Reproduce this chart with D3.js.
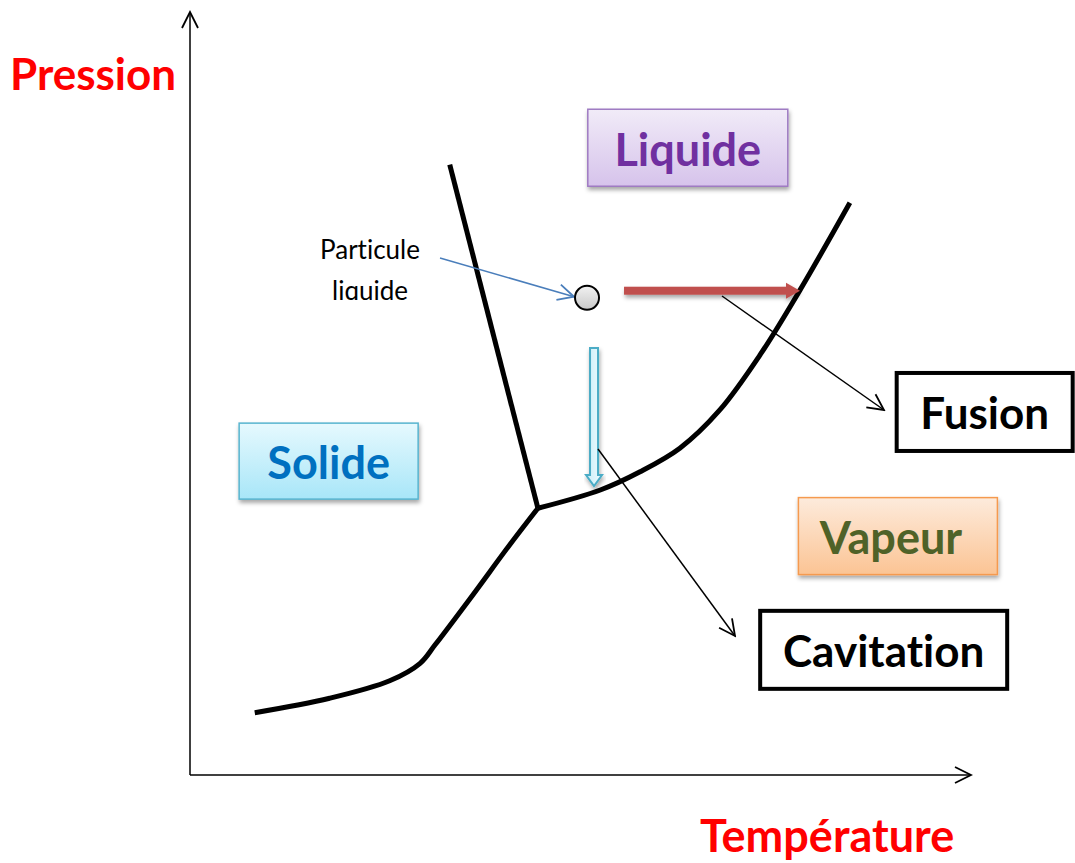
<!DOCTYPE html>
<meta charset="utf-8">
<html>
<head>
<title>Diagramme de phase</title>
<script src="https://d3js.org/d3.v7.min.js"></script>
<style>
body { margin: 0; background: #fff; }
svg text { font-family: Lato, "Open Sans", sans-serif; font-variant-ligatures: none; }
</style>
</head>
<body>
<div id="chart"></div>
<script>
// phase boundaries, in (temperature, pressure) units 0..100
var melting = [[33.3, 80.3], [44.6, 35.1]];
var vaporization = [[44.6, 35.1], [52.6, 37.5], [57.7, 39.9], [62.8, 43.0], [67.9, 48.0], [73.1, 55.3], [78.2, 63.8], [84.6, 75.3]];
var sublimation = [[8.3, 8.2], [17.9, 10.1], [25.6, 12.4], [29.5, 14.7], [31.4, 17.1], [35.9, 23.2], [41.0, 30.3], [44.6, 35.1]];

// phase labels (box corner T,P and size)
var phases = [
  { name: "Liquide", t: 51.0, p: 87.6, w: 200, h: 77, fill: ["#f1ebf8", "#d6c3eb"], stroke: "#9f7bc3", color: "#7030a0" },
  { name: "Solide", t: 6.3, p: 46.3, w: 179, h: 76, fill: ["#e6f9fe", "#a8e6f8"], stroke: "#58b4cf", color: "#0070c0" },
  { name: "Vapeur", t: 78.0, p: 36.5, w: 199, h: 77, fill: ["#fdebdc", "#fbc494"], stroke: "#f59a4f", color: "#4f6228" }
];

// phenomena
var phenomena = [
  { name: "Fusion", t: 90.6, p: 52.9, w: 176, h: 78 },
  { name: "Cavitation", t: 73.1, p: 21.6, w: 247, h: 78 }
];

var particle = [50.9, 62.8];

var width = 1075, height = 863;
var x = d3.scaleLinear().domain([0, 100]).range([190, 970]);
var y = d3.scaleLinear().domain([0, 100]).range([775, 15]);

var svg = d3.select("#chart").append("svg")
  .attr("width", width)
  .attr("height", height);

var defs = svg.append("defs");

var shadow = defs.append("filter").attr("id", "shadow")
  .attr("x", "-10%").attr("y", "-10%").attr("width", "130%").attr("height", "140%");
shadow.append("feDropShadow")
  .attr("dx", 1).attr("dy", 3).attr("stdDeviation", 2)
  .attr("flood-color", "#000").attr("flood-opacity", 0.35);

function marker(id, color, sw) {
  defs.append("marker")
    .attr("id", id)
    .attr("viewBox", "0 0 10 10")
    .attr("refX", 9).attr("refY", 5)
    .attr("markerUnits", "userSpaceOnUse")
    .attr("markerWidth", 20).attr("markerHeight", 20)
    .attr("orient", "auto")
    .append("path")
    .attr("d", "M1,1 L9,5 L1,9")
    .attr("fill", "none")
    .attr("stroke", color)
    .attr("stroke-width", sw);
}
marker("arrowBlack", "#000", 0.9);
marker("arrowBlue", "#4a7ebb", 0.9);

phases.forEach(function (d, i) {
  var g = defs.append("linearGradient").attr("id", "grad" + i)
    .attr("x1", 0).attr("y1", 0).attr("x2", 0).attr("y2", 1);
  g.append("stop").attr("offset", "0%").attr("stop-color", d.fill[0]);
  g.append("stop").attr("offset", "100%").attr("stop-color", d.fill[1]);
});

var cg = defs.append("linearGradient").attr("id", "gradCircle")
  .attr("x1", 0).attr("y1", 0).attr("x2", 0).attr("y2", 1);
cg.append("stop").attr("offset", "0%").attr("stop-color", "#f2f2f2");
cg.append("stop").attr("offset", "100%").attr("stop-color", "#c8c8c8");

var cy = defs.append("linearGradient").attr("id", "gradCyan")
  .attr("x1", 0).attr("y1", 0).attr("x2", 1).attr("y2", 0);
cy.append("stop").attr("offset", "0%").attr("stop-color", "#c9eef9");
cy.append("stop").attr("offset", "100%").attr("stop-color", "#eefafd");

// axes
svg.append("line")
  .attr("x1", x(0)).attr("y1", y(0))
  .attr("x2", x(0)).attr("y2", y(100) - 3)
  .attr("stroke", "#000").attr("stroke-width", 1.5)
  .attr("marker-end", "url(#arrowBlack)");
svg.append("line")
  .attr("x1", x(0)).attr("y1", y(0))
  .attr("x2", x(100) + 1).attr("y2", y(0))
  .attr("stroke", "#000").attr("stroke-width", 1.5)
  .attr("marker-end", "url(#arrowBlack)");

svg.append("text")
  .attr("x", 10).attr("y", 90)
  .attr("fill", "#ff0000").attr("font-weight", "bold").attr("font-size", 44)
  .text("Pression");
svg.append("text")
  .attr("x", 700).attr("y", 852)
  .attr("fill", "#ff0000").attr("font-weight", "bold").attr("font-size", 45)
  .text("Température");

// phase boundaries
var line = d3.line()
  .x(function (d) { return x(d[0]); })
  .y(function (d) { return y(d[1]); });

svg.append("path").datum(melting)
  .attr("d", line)
  .attr("fill", "none").attr("stroke", "#000").attr("stroke-width", 5);
svg.append("path").datum(vaporization)
  .attr("d", line.curve(d3.curveCatmullRom))
  .attr("fill", "none").attr("stroke", "#000").attr("stroke-width", 5);
svg.append("path").datum(sublimation)
  .attr("d", line.curve(d3.curveCatmullRom))
  .attr("fill", "none").attr("stroke", "#000").attr("stroke-width", 5)
  .attr("stroke-linejoin", "round");

// phase boxes
var pg = svg.selectAll(".phase")
  .data(phases)
  .enter().append("g")
  .attr("class", "phase")
  .attr("transform", function (d) { return "translate(" + x(d.t) + "," + y(d.p) + ")"; });

pg.append("rect")
  .attr("width", function (d) { return d.w; })
  .attr("height", function (d) { return d.h; })
  .attr("fill", function (d, i) { return "url(#grad" + i + ")"; })
  .attr("stroke", function (d) { return d.stroke; })
  .attr("stroke-width", 1.5)
  .attr("filter", "url(#shadow)");

pg.append("text")
  .attr("x", function (d) { return d.name === "Vapeur" ? d.w / 2 - 7 : d.w / 2; })
  .attr("y", function (d) { return d.h / 2 + 18; })
  .attr("text-anchor", "middle")
  .attr("font-weight", "bold").attr("font-size", 45)
  .attr("fill", function (d) { return d.color; })
  .text(function (d) { return d.name; });

// particle label
svg.append("text")
  .attr("x", 370).attr("y", 259)
  .attr("text-anchor", "middle").attr("font-size", 26).attr("fill", "#000")
  .text("Particule");
defs.append("clipPath").attr("id", "clipLabel")
  .append("rect").attr("x", 300).attr("y", 270).attr("width", 140).attr("height", 30);
svg.append("text")
  .attr("x", 370).attr("y", 300)
  .attr("text-anchor", "middle").attr("font-size", 26).attr("fill", "#000")
  .attr("clip-path", "url(#clipLabel)")
  .text("liquide");

svg.append("line")
  .attr("x1", 440).attr("y1", 258)
  .attr("x2", x(particle[0]) - 13).attr("y2", y(particle[1]) - 1)
  .attr("stroke", "#4a7ebb").attr("stroke-width", 1.5)
  .attr("marker-end", "url(#arrowBlue)");

// isothermal / isobaric paths
var redArrow = svg.append("g").attr("filter", "url(#shadow)");
redArrow.append("rect")
  .attr("x", x(particle[0]) + 37).attr("y", y(particle[1]) - 11)
  .attr("width", 163).attr("height", 8)
  .attr("fill", "#c0504d");
redArrow.append("path")
  .attr("d", "M" + (x(particle[0]) + 199) + "," + (y(particle[1]) - 15) +
    " L" + (x(particle[0]) + 213) + "," + (y(particle[1]) - 7) +
    " L" + (x(particle[0]) + 199) + "," + (y(particle[1]) + 1) + "Z")
  .attr("fill", "#c0504d");

var cx0 = x(particle[0]) + 7;
svg.append("path")
  .attr("d", "M" + (cx0 - 4) + "," + 348 + " L" + (cx0 + 4) + "," + 348 +
    " L" + (cx0 + 4) + "," + 475 + " L" + (cx0 + 8) + "," + 475 +
    " L" + cx0 + "," + 486 + " L" + (cx0 - 8) + "," + 475 +
    " L" + (cx0 - 4) + "," + 475 + "Z")
  .attr("fill", "url(#gradCyan)").attr("stroke", "#4bacc6").attr("stroke-width", 2)
  .attr("filter", "url(#shadow)");

svg.append("circle")
  .attr("cx", x(particle[0])).attr("cy", y(particle[1]))
  .attr("r", 12)
  .attr("fill", "url(#gradCircle)")
  .attr("stroke", "#000").attr("stroke-width", 2);

// pointers to phenomena
svg.append("line")
  .attr("x1", 722).attr("y1", 296).attr("x2", 884).attr("y2", 410)
  .attr("stroke", "#000").attr("stroke-width", 1.5)
  .attr("marker-end", "url(#arrowBlack)");
svg.append("line")
  .attr("x1", 598).attr("y1", 449).attr("x2", 735).attr("y2", 636)
  .attr("stroke", "#000").attr("stroke-width", 1.5)
  .attr("marker-end", "url(#arrowBlack)");

// phenomena boxes
var fg = svg.selectAll(".phen")
  .data(phenomena)
  .enter().append("g")
  .attr("class", "phen")
  .attr("transform", function (d) { return "translate(" + x(d.t) + "," + y(d.p) + ")"; });

fg.append("rect")
  .attr("width", function (d) { return d.w; })
  .attr("height", function (d) { return d.h; })
  .attr("fill", "#fff")
  .attr("stroke", "#000").attr("stroke-width", 4);

fg.append("text")
  .attr("x", function (d) { return d.w / 2; })
  .attr("y", function (d) { return d.h / 2 + 17; })
  .attr("text-anchor", "middle")
  .attr("font-weight", "bold").attr("font-size", 44)
  .attr("fill", "#000")
  .text(function (d) { return d.name; });
</script>
</body>
</html>
